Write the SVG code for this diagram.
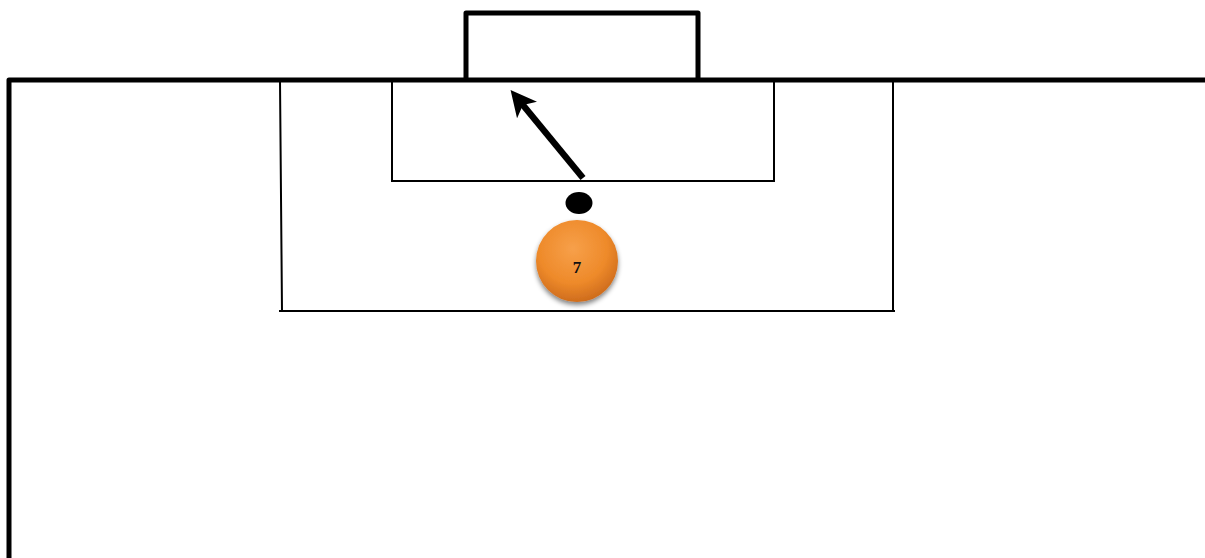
<svg xmlns="http://www.w3.org/2000/svg" width="1205" height="558" viewBox="0 0 1205 558">
<style>
.thick{fill:none;stroke:#000;stroke-width:5;stroke-linejoin:round}
.thin{fill:none;stroke:#000;stroke-width:2}
</style>
<defs>
<radialGradient id="og" cx="0.45" cy="0.35" r="0.7">
<stop offset="0" stop-color="#f7a04a"/>
<stop offset="0.6" stop-color="#ee8a2a"/>
<stop offset="1" stop-color="#c8661a"/>
</radialGradient>
<filter id="sh" x="-30%" y="-30%" width="160%" height="170%">
<feGaussianBlur in="SourceAlpha" stdDeviation="2.5"/>
<feOffset dy="3"/>
<feComponentTransfer><feFuncA type="linear" slope="0.5"/></feComponentTransfer>
<feMerge><feMergeNode/><feMergeNode in="SourceGraphic"/></feMerge>
</filter>
<marker id="ah" markerWidth="4" markerHeight="4" refX="2.2" refY="2" orient="auto" markerUnits="strokeWidth">
<path d="M0,0 L4,2 L0,4 L1,2 Z" fill="#000"/>
</marker>
</defs>
<rect width="1205" height="558" fill="#fff"/>
<g id="pitch">
<path class="thick" d="M9,558 L9,80 L1205,80"/>
<path class="thick" d="M466,78 L466,13 L698,13 L698,78"/>
<path class="thin" d="M280,81 L282,311 M893,81 L893,311 M279,311 L895,311"/>
<path class="thin" d="M392,81 L392,181 L774,181 L774,81"/>
</g>
<g id="connectors">
<line x1="583" y1="178" x2="518" y2="99" stroke="#000" stroke-width="6.5" marker-end="url(#ah)"/>
</g>
<g id="ball">
<ellipse cx="579" cy="203" rx="13.5" ry="11" fill="#000"/>
</g>
<g id="player7">
<circle cx="577" cy="261" r="41" fill="url(#og)" filter="url(#sh)"/>
<text x="577" y="273" font-family="Liberation Serif, serif" font-weight="bold" font-size="17" text-anchor="middle" fill="#111">7</text>
</g>
</svg>
